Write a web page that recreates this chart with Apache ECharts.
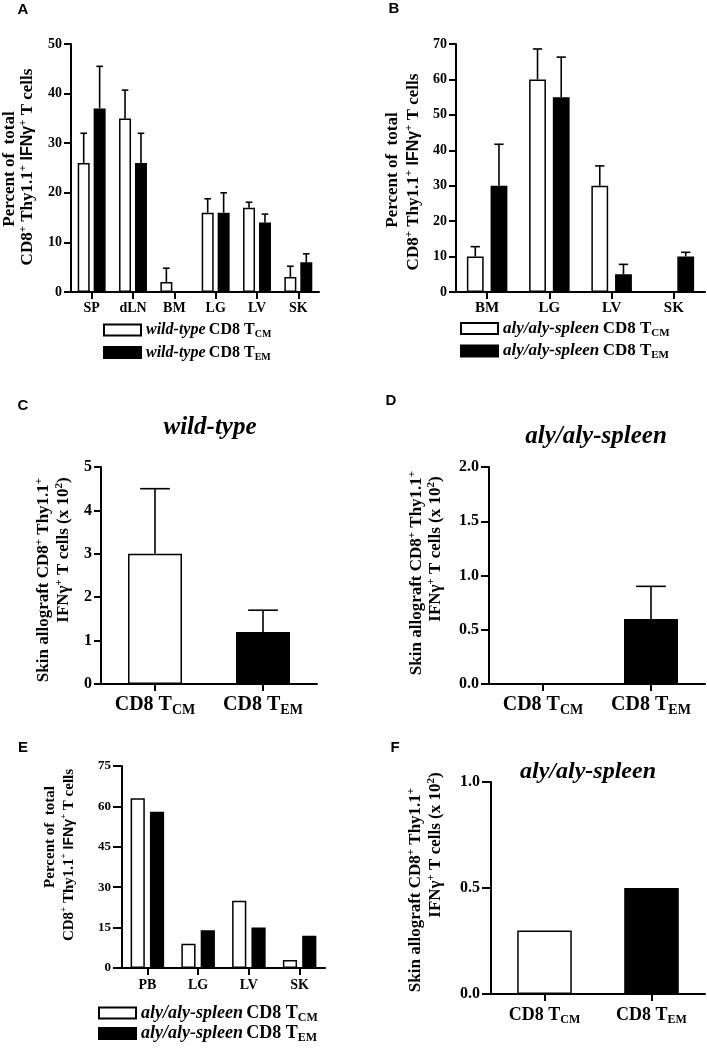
<!DOCTYPE html>
<html><head><meta charset="utf-8">
<script src="https://cdn.jsdelivr.net/npm/echarts@6/dist/echarts.min.js"></script>
<style>html,body{margin:0;padding:0;background:#fff}#c{width:707px;height:1050px}</style>
</head><body><div id="c"></div>
<script>
// ---------- data ----------
const catsA = ['SP', 'dLN', 'BM', 'LG', 'LV', 'SK'];
const wtCM = [26, 35, 2, 16, 17, 3];
const wtCMerr = [6, 5.7, 2.8, 2.8, 1.1, 2.2];
const wtEM = [37, 26, 0, 16, 14, 6];
const wtEMerr = [8.5, 6, 0, 4, 1.7, 1.7];

const catsB = ['BM', 'LG', 'LV', 'SK'];
const alyCM = [10, 60, 30, 0];
const alyCMerr = [2.8, 8.6, 5.6, 0];
const alyEM = [30, 55, 5, 10];
const alyEMerr = [11.7, 11.3, 2.8, 1.2];

const catsSkin = ['CD8 T_CM', 'CD8 T_EM'];
const wtSkin = [3, 1.2];
const wtSkinErr = [1.5, 0.5];
const alySkin = [0, 0.6];
const alySkinErr = [0, 0.3];

const catsE = ['PB', 'LG', 'LV', 'SK'];
const peCM = [63, 9, 25, 3];
const peEM = [58, 14, 15, 12];

const alySkin2 = [0.3, 0.5];

const namesWT = ['wild-type CD8 TCM', 'wild-type CD8 TEM'];
const namesAly = ['aly/aly-spleen CD8 TCM', 'aly/aly-spleen CD8 TEM'];

// ---------- styling helpers ----------
const SERIF = '"Liberation Serif", "Times New Roman", serif';
const SANS = '"Liberation Sans", Arial, sans-serif';
const BLACK = '#000';
const barColors = ['#ffffff', '#000000'];

const chart = echarts.init(document.getElementById('c'), null, {renderer: 'canvas'});

function xAxisCfg(gi, data, fs, margin, skin) {
  const lab = skin ? {
      interval: 0, hideOverlap: false, margin: margin,
      formatter: v => { const p = v.split('_'); return '{m|' + p[0] + '}{s|' + p[1] + '}'; },
      rich: {
        m: {fontFamily: SERIF, fontWeight: 'bold', fontSize: fs, color: BLACK, lineHeight: fs + 4},
        s: {fontFamily: SERIF, fontWeight: 'bold', fontSize: Math.round(fs * 0.68), color: BLACK, lineHeight: 10, verticalAlign: 'bottom'}
      }
    } : {interval: 0, margin: margin, fontFamily: SERIF, fontWeight: 'bold', fontSize: fs, color: BLACK};
  return {
    type: 'category', gridIndex: gi, data: data,
    axisLine: {show: true, lineStyle: {color: BLACK, width: 2}},
    axisTick: {show: true, alignWithLabel: true, length: 7, lineStyle: {color: BLACK, width: 2}},
    axisLabel: lab,
    splitLine: {show: false}
  };
}
function yAxisCfg(gi, min, max, interval, fs, dec, tickLen) {
  return {
    type: 'value', gridIndex: gi, min: min, max: max, interval: interval,
    axisLine: {show: true, lineStyle: {color: BLACK, width: 2}},
    axisTick: {show: true, length: tickLen, lineStyle: {color: BLACK, width: 2}},
    axisLabel: {margin: tickLen + 2, fontFamily: SERIF, fontWeight: 'bold', fontSize: fs, color: BLACK,
      formatter: v => dec ? v.toFixed(dec) : String(v)},
    splitLine: {show: false}
  };
}
function barSeries(name, gi, vals, colorIdx, width, gap) {
  return {
    name: name, type: 'bar', xAxisIndex: gi, yAxisIndex: gi, data: vals,
    barWidth: width, barGap: gap,
    itemStyle: {color: barColors[colorIdx], borderColor: BLACK, borderWidth: 1.5},
    emphasis: {disabled: true}, animation: false
  };
}
function skinSeries(gi, vals, width) {
  return {
    type: 'bar', xAxisIndex: gi, yAxisIndex: gi, barWidth: width,
    data: vals.map((v, i) => ({value: v, itemStyle: {color: barColors[i], borderColor: BLACK, borderWidth: 1.5}})),
    emphasis: {disabled: true}, animation: false
  };
}
// error bars drawn through the axes' own scales
function errSeries(gi, vals, errs, sign, widthPct, gapPct) {
  const data = [];
  vals.forEach((v, i) => { if (errs[i] > 0) data.push([i, v, v + errs[i]]); });
  return {
    type: 'custom', xAxisIndex: gi, yAxisIndex: gi, data: data, animation: false, z: 3,
    renderItem: function (params, api) {
      const i = api.value(0);
      const base = api.coord([i, api.value(1)]);
      const top = api.coord([i, api.value(2)]);
      const band = api.size([1, 0])[0];
      const bw = band * widthPct;
      const off = sign * (bw * (1 + gapPct)) / 2;
      const x = base[0] + off;
      const cap = bw * 0.55;
      const st = {stroke: BLACK, lineWidth: 1.6};
      return {type: 'group', children: [
        {type: 'line', shape: {x1: x, y1: base[1], x2: x, y2: top[1]}, style: st},
        {type: 'line', shape: {x1: x - cap / 2, y1: top[1], x2: x + cap / 2, y2: top[1]}, style: st}
      ]};
    }
  };
}
function legendCfg(names, left, top, fs, gap) {
  return {
    left: left, top: top, orient: 'vertical', padding: 0, itemGap: gap,
    itemWidth: 37, itemHeight: 11, selectedMode: false, icon: 'rect',
    data: [
      {name: names[0], itemStyle: {color: '#fff', borderColor: BLACK, borderWidth: 2}},
      {name: names[1], itemStyle: {color: BLACK, borderColor: BLACK, borderWidth: 2}}
    ],
    formatter: function (n) {
      const m = n.match(/^(\S+) CD8 T(\w+)$/);
      return '{i|' + m[1] + '} {b|CD8 T}{s|' + m[2] + '}';
    },
    textStyle: {
      rich: {
        i: {fontFamily: SERIF, fontStyle: 'italic', fontWeight: 'bold', fontSize: fs, color: BLACK, lineHeight: fs + 3},
        b: {fontFamily: SERIF, fontWeight: 'bold', fontSize: fs, color: BLACK, lineHeight: fs + 3},
        s: {fontFamily: SERIF, fontWeight: 'bold', fontSize: Math.round(fs * 0.65), color: BLACK, lineHeight: 9, verticalAlign: 'bottom'}
      }
    }
  };
}
function richStyles(fs) {
  return {
    t: {fontFamily: SERIF, fontWeight: 'bold', fontSize: fs, color: BLACK, lineHeight: fs + 4},
    f: {fontFamily: SANS, fontWeight: 'bold', fontSize: fs - 1, color: BLACK, lineHeight: fs + 4},
    p: {fontFamily: SERIF, fontWeight: 'bold', fontSize: Math.round(fs * 0.62), color: BLACK, lineHeight: 9, verticalAlign: 'top'}
  };
}
function vText(x, y, text, fs) {
  return {type: 'text', x: x, y: y, rotation: Math.PI / 2, silent: true,
    style: {text: text, rich: richStyles(fs), align: 'center', verticalAlign: 'middle', fill: BLACK}};
}
function letter(x, y, t) {
  return {type: 'text', x: x, y: y, silent: true,
    style: {text: t, fontFamily: SANS, fontWeight: 'bold', fontSize: 15, fill: BLACK, align: 'center', verticalAlign: 'middle'}};
}
function title(x, y, t, fs) {
  return {type: 'text', x: x, y: y, silent: true,
    style: {text: t, fontFamily: SERIF, fontWeight: 'bold', fontStyle: 'italic', fontSize: fs, fill: BLACK, align: 'center', verticalAlign: 'middle'}};
}

const pctLine1 = '{t|Percent of  total}';
const pctLine2 = '{t|CD8}{p|+}{t| Thy1.1}{p|+}{f| IFNγ}{p|+}{t| T cells}';
const skinLine1 = '{t|Skin allograft CD8}{p|+}{t| Thy1.1}{p|+}';
const skinLine2 = '{t|IFNγ}{p|+}{t| T cells (x 10}{p|2}{t|)}';

const option = {
  backgroundColor: '#fff',
  animation: false,
  grid: [
    {left: 71, top: 44, width: 248, height: 248},
    {left: 456, top: 44, width: 249, height: 248},
    {left: 101, top: 467, width: 216, height: 217},
    {left: 489, top: 467, width: 216, height: 217},
    {left: 122, top: 766, width: 203, height: 202},
    {left: 491, top: 782, width: 214, height: 212}
  ],
  xAxis: [
    xAxisCfg(0, catsA, 14, 9, false),
    xAxisCfg(1, catsB, 15, 9, false),
    xAxisCfg(2, catsSkin, 20, 9, true),
    xAxisCfg(3, catsSkin, 20, 9, true),
    xAxisCfg(4, catsE, 14, 10, false),
    xAxisCfg(5, catsSkin, 18, 10, true)
  ],
  yAxis: [
    yAxisCfg(0, 0, 50, 10, 14, 0, 7),
    yAxisCfg(1, 0, 70, 10, 14, 0, 7),
    yAxisCfg(2, 0, 5, 1, 16, 0, 7),
    yAxisCfg(3, 0, 2, 0.5, 16, 1, 8),
    yAxisCfg(4, 0, 75, 15, 13, 0, 9),
    yAxisCfg(5, 0, 1, 0.5, 16, 1, 9)
  ],
  legend: [
    legendCfg(namesWT, 103, 322, 16, 5),
    legendCfg(namesAly, 460, 320, 17, 4),
    legendCfg(namesAly, 98, 1004, 18, 1)
  ],
  series: [
    barSeries(namesWT[0], 0, wtCM, 0, '29%', '33%'),
    barSeries(namesWT[1], 0, wtEM, 1, '29%', '33%'),
    errSeries(0, wtCM, wtCMerr, -1, 0.29, 0.33),
    errSeries(0, wtEM, wtEMerr, 1, 0.29, 0.33),

    barSeries(namesAly[0], 1, alyCM, 0, '27%', '41%'),
    barSeries(namesAly[1], 1, alyEM, 1, '27%', '41%'),
    errSeries(1, alyCM, alyCMerr, -1, 0.27, 0.41),
    errSeries(1, alyEM, alyEMerr, 1, 0.27, 0.41),

    skinSeries(2, wtSkin, '50%'),
    errSeries(2, wtSkin, wtSkinErr, 0, 0.5, 0),

    skinSeries(3, alySkin, '50%'),
    errSeries(3, alySkin, alySkinErr, 0, 0.5, 0),

    barSeries(namesAly[0], 4, peCM, 0, '28%', '36%'),
    barSeries(namesAly[1], 4, peEM, 1, '28%', '36%'),

    skinSeries(5, alySkin2, '51%')
  ],
  graphic: [
    letter(23, 10, 'A'), letter(394, 9, 'B'), letter(23, 406, 'C'),
    letter(391, 401, 'D'), letter(23, 748, 'E'), letter(395, 748, 'F'),
    title(210, 428, 'wild-type', 25), title(596, 437, 'aly/aly-spleen', 25), title(588, 772, 'aly/aly-spleen', 24),
    vText(10, 169, pctLine1, 17), vText(28, 167, pctLine2, 17),
    vText(393, 170, pctLine1, 17), vText(414, 172, pctLine2, 17),
    vText(44, 580, skinLine1, 17), vText(64, 550, skinLine2, 17),
    vText(417, 573, skinLine1, 17), vText(436, 549, skinLine2, 17),
    vText(50, 837, pctLine1, 15), vText(69, 855, pctLine2, 15),
    vText(416, 890, skinLine1, 17), vText(436, 845, skinLine2, 17)
  ]
};
chart.setOption(option);
</script>
</body></html>
